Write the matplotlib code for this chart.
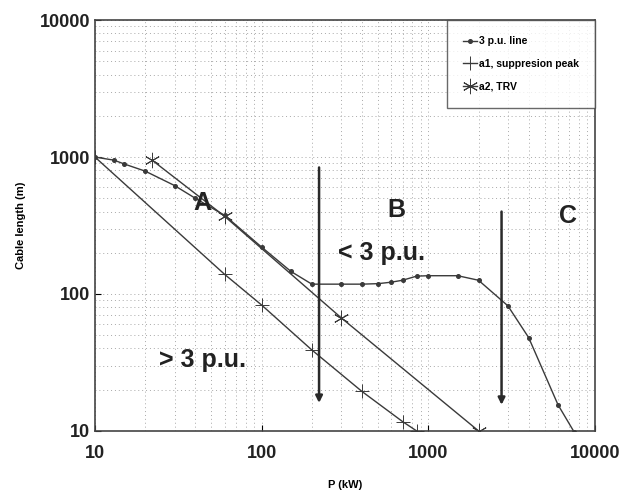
import matplotlib.pyplot as plt

# 3 p.u. line
pu_x = [10, 13, 15, 20, 30, 40, 60, 100, 150, 200, 300, 400, 500, 600, 700,
        850, 1000, 1500, 2000, 3000, 4000, 6000, 7500]
pu_y = [1000, 950, 890, 790, 620, 500, 375, 220, 146, 118, 118, 118, 119, 122,
        126, 135, 136, 136, 126, 82, 48, 15.5, 9.8]

# a1, suppresion peak
a1_x = [10, 60, 100, 200, 400, 700, 850]
a1_y = [1000, 139, 83, 39, 19.4, 11.7, 10]

# a2, TRV
a2_x = [22, 60, 300, 2000]
a2_y = [950, 369, 67, 10]

# region arrows (x, top, bottom)
arrow_x = [221, 2750]
arrow_top = [840, 400]
arrow_bottom = [16, 15.5]

fig = plt.figure(figsize=(6.25, 4.93), dpi=100)
ax = fig.add_axes([0.152, 0.126, 0.8, 0.833])
ax.set_xscale('log')
ax.set_yscale('log')
ax.set_xlim(10, 10000)
ax.set_ylim(10, 10000)

line_col = '#3a3a3a'
ax.plot(pu_x, pu_y, color=line_col, lw=1.0, marker='o', ms=2.6,
        label='3 p.u. line', zorder=3)
ax.plot(a1_x, a1_y, color=line_col, lw=1.0, marker='+', ms=10, mew=0.7,
        label='a1, suppresion peak', zorder=3)
ax.plot(a2_x, a2_y, color=line_col, lw=1.0, marker=(6, 2, 0), ms=11, mew=0.7,
        label='a2, TRV', zorder=3)

for xv, top, bot in zip(arrow_x, arrow_top, arrow_bottom):
    ax.annotate('', xy=(xv, bot), xytext=(xv, top),
                arrowprops=dict(arrowstyle='-|>', color='#2a2a2a', lw=1.8,
                                mutation_scale=10, shrinkA=0, shrinkB=0))

txt = dict(fontsize=18, fontweight='bold', color='#222222',
           ha='center', va='center', family='Liberation Sans')
ax.text(44, 460, 'A', **txt)
ax.text(640, 410, 'B', **txt)
ax.text(6900, 370, 'C', **txt)
ax.text(527, 198, '< 3 p.u.', **txt)
ax.text(44, 33, '> 3 p.u.', **txt)

ax.grid(True, which='both', color='#a8a8a8', lw=0.7, ls=(0, (1, 3)))
ax.tick_params(which='both', direction='in', length=4, width=0.8)
ax.tick_params(which='minor', length=0)
ax.tick_params(axis='x', pad=10)
ax.set_xticks([10, 100, 1000, 10000])
ax.set_xticklabels(['10', '100', '1000', '10000'])
ax.set_yticks([10, 100, 1000, 10000])
ax.set_yticklabels(['10', '100', '1000', '10000'])
for lab in ax.get_xticklabels() + ax.get_yticklabels():
    lab.set_fontsize(13)
    lab.set_fontweight('bold')
    lab.set_family('Liberation Sans')
    lab.set_color('#222222')
for s in ax.spines.values():
    s.set_color('#444444')
    s.set_linewidth(1.2)

ax.set_xlabel('P (kW)', fontsize=8, fontweight='bold', family='Liberation Sans',
              labelpad=13)
ax.set_ylabel('Cable length (m)', fontsize=8, fontweight='bold',
              family='Liberation Sans', labelpad=10)

leg = ax.legend(loc='upper right', frameon=True, fancybox=False,
                edgecolor='#444444', borderpad=1.55, labelspacing=1.2,
                handlelength=1.3, handletextpad=0.2, borderaxespad=0,
                prop={'weight': 'bold', 'size': 7.5, 'family': 'Liberation Sans'})
leg.get_frame().set_linewidth(1.0)

fig.savefig('out.png', dpi=100)
